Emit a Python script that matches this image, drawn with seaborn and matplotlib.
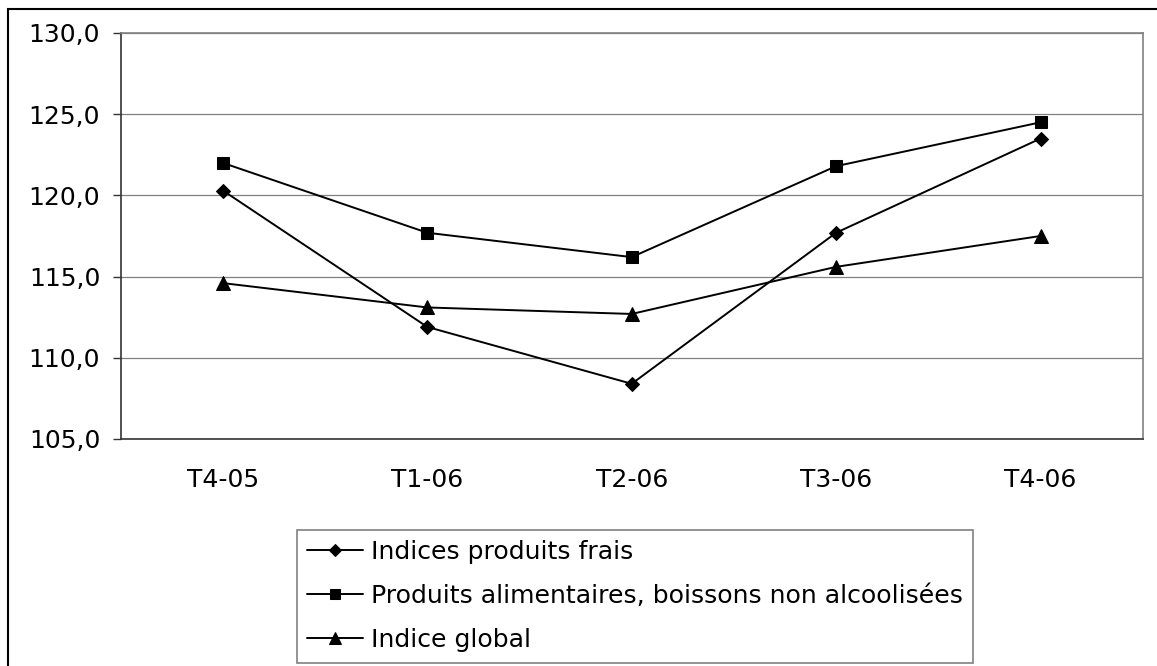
import matplotlib
matplotlib.use("Agg")
import matplotlib.pyplot as plt
import matplotlib.patches as mpatches
from matplotlib.ticker import FuncFormatter, FixedLocator
import seaborn as sns
import pandas as pd

quarters = ["T4-05", "T1-06", "T2-06", "T3-06", "T4-06"]
frais = [120.3, 111.9, 108.4, 117.7, 123.5]
alimentaires = [122.0, 117.7, 116.2, 121.8, 124.5]
global_idx = [114.6, 113.1, 112.7, 115.6, 117.5]
labels = ["Indices produits frais",
          "Produits alimentaires, boissons non alcoolisées",
          "Indice global"]
yticks = [105, 110, 115, 120, 125, 130]

sns.set_style("white")
plt.rcParams['font.family'] = ['DejaVu Sans']
plt.rcParams['text.color'] = 'black'
plt.rcParams['xtick.color'] = 'black'
plt.rcParams['ytick.color'] = 'black'

fig = plt.figure(figsize=(11.57, 6.66), dpi=100)
ax = fig.add_axes([120.7/1157, 1 - 439/666, (1142.7-120.7)/1157, (439-33)/666])

series = [(frais, "D", 7.4), (alimentaires, "s", 8.6), (global_idx, "^", 10.0)]
for (vals, mk, ms), lab in zip(series, labels):
    df = pd.DataFrame({"q": quarters, "v": vals})
    sns.lineplot(data=df, x="q", y="v", ax=ax, color="black", linewidth=1.4,
                 marker=mk, markersize=ms, markeredgecolor="black",
                 markerfacecolor="black", label=lab, sort=False)

ax.set_xlim(-0.5, 4.5)
ax.set_ylim(105, 130)
ax.set_xlabel("")
ax.set_ylabel("")
ax.set_yticks(yticks)
ax.yaxis.set_major_formatter(FuncFormatter(lambda v, p: f"{v:.1f}".replace(".", ",")))
ax.grid(axis="y", color="#808080", linewidth=0.9)
ax.grid(axis="x", visible=False)
ax.set_axisbelow(True)

ax.set_xticks(range(len(quarters)))
ax.set_xticklabels(quarters)
ax.xaxis.set_minor_locator(FixedLocator([i - 0.5 for i in range(len(quarters) + 1)]))
ax.tick_params(axis="x", which="major", length=0, pad=21, labelsize=18, labelcolor="black")
ax.tick_params(axis="x", which="minor", length=5.8, width=1, color="#333333", direction="out")
ax.tick_params(axis="y", which="major", length=5.8, width=1, color="#333333",
               direction="out", pad=9, labelsize=18, labelcolor="black", left=True)

for s in ["left", "bottom"]:
    ax.spines[s].set_color("#333333")
    ax.spines[s].set_linewidth(1.2)
for s in ["top", "right"]:
    ax.spines[s].set_color("#808080")
    ax.spines[s].set_linewidth(1.2)

leg = ax.legend(loc="upper left", bbox_to_anchor=(296.7/1157, 1 - 529.5/666),
                bbox_transform=fig.transFigure, borderaxespad=0, fontsize=18.1,
                handlelength=2.2, handletextpad=0.32, borderpad=0.42,
                labelspacing=0.8, fancybox=False, framealpha=1, markerscale=0.8)
leg.get_frame().set_edgecolor("#808080")
leg.get_frame().set_linewidth(1.2)
for t in leg.get_texts():
    t.set_color("black")

border = mpatches.Rectangle((8/1157, -0.2), 1.5, (1 - 9/666) + 0.2,
                            transform=fig.transFigure, fill=False,
                            edgecolor="black", linewidth=1.5, clip_on=False)
fig.patches.append(border)

fig.savefig("out.png", dpi=100)
